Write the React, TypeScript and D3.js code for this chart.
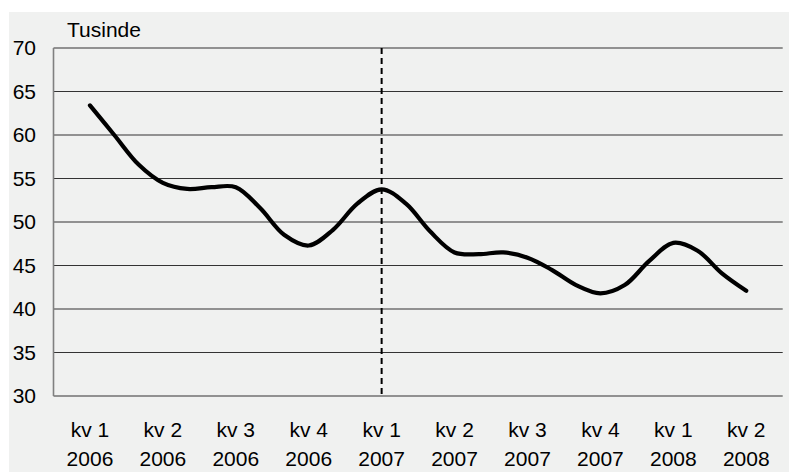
import React from "react";
import * as d3 from "d3";

const quarterLabels = ["kv 1", "kv 2", "kv 3", "kv 4", "kv 1", "kv 2", "kv 3", "kv 4", "kv 1", "kv 2"];
const yearLabels = ["2006", "2006", "2006", "2006", "2007", "2007", "2007", "2007", "2008", "2008"];
const monthlyValues = [
  63.4, 60.0, 56.6, 54.5, 53.8, 54.0, 54.0, 51.6, 48.5, 47.3,
  49.1, 52.1, 53.75, 52.1, 48.9, 46.5, 46.3, 46.5, 45.9, 44.5,
  42.75, 41.8, 42.75, 45.5, 47.6, 46.7, 44.1, 42.1,
];
const yTicks = [30, 35, 40, 45, 50, 55, 60, 65, 70];
const unitLabel = "Tusinde";
const markerIndex = 4; // kv 1 2007

const W = 789;
const H = 472;
const plot = { left: 53.5, right: 782.7, top: 48, bottom: 396 };
const font = "'Liberation Sans', Arial, sans-serif";
const fs = 21;

export default function App() {
  const band = d3
    .scaleBand<number>()
    .domain(quarterLabels.map((_, i) => i))
    .range([plot.left, plot.right]);
  const x = (m: number) => (band(0) as number) + band.bandwidth() / 2 + (m / 3) * band.bandwidth();
  const y = d3.scaleLinear().domain([30, 70]).range([plot.bottom, plot.top]);
  const line = d3
    .line<number>()
    .x((_, i) => x(i))
    .y((d) => y(d))
    .curve(d3.curveCatmullRom.alpha(0.5));
  const markerX = (band(markerIndex) as number) + band.bandwidth() / 2;

  return (
    <div style={{ position: "fixed", left: 0, top: 0 }}>
      <svg width={W} height={H} style={{ display: "block", background: "#ffffff" }}>
        <rect x={9} y={12} width={W - 9} height={H - 12} fill="#f0f1f0" />
        {yTicks.map((t) => (
          <line
            key={"g" + t}
            x1={plot.left}
            x2={plot.right}
            y1={y(t)}
            y2={y(t)}
            stroke="#333333"
            strokeWidth={1.1}
          />
        ))}
        <line x1={plot.left} x2={plot.left} y1={plot.top} y2={plot.bottom} stroke="#808080" strokeWidth={1.6} />
        <line
          x1={markerX}
          x2={markerX}
          y1={plot.top}
          y2={plot.bottom}
          stroke="#000"
          strokeWidth={2}
          strokeDasharray="6,4"
        />
        {yTicks.map((t) => (
          <text
            key={"t" + t}
            x={36}
            y={y(t)}
            dy="0.35em"
            textAnchor="end"
            fontFamily={font}
            fontSize={fs}
            fill="#000"
          >
            {t}
          </text>
        ))}
        <text x={67} y={37} fontFamily={font} fontSize={fs} fill="#000">
          {unitLabel}
        </text>
        {quarterLabels.map((q, i) => {
          const cx = (band(i) as number) + band.bandwidth() / 2;
          return (
            <g key={"x" + i}>
              <text x={cx} y={437} textAnchor="middle" fontFamily={font} fontSize={fs} fill="#000">
                {q}
              </text>
              <text x={cx} y={466} textAnchor="middle" fontFamily={font} fontSize={fs} fill="#000">
                {yearLabels[i]}
              </text>
            </g>
          );
        })}
        <path
          d={line(monthlyValues) || ""}
          fill="none"
          stroke="#000"
          strokeWidth={4.2}
          strokeLinejoin="round"
          strokeLinecap="round"
        />
      </svg>
    </div>
  );
}
